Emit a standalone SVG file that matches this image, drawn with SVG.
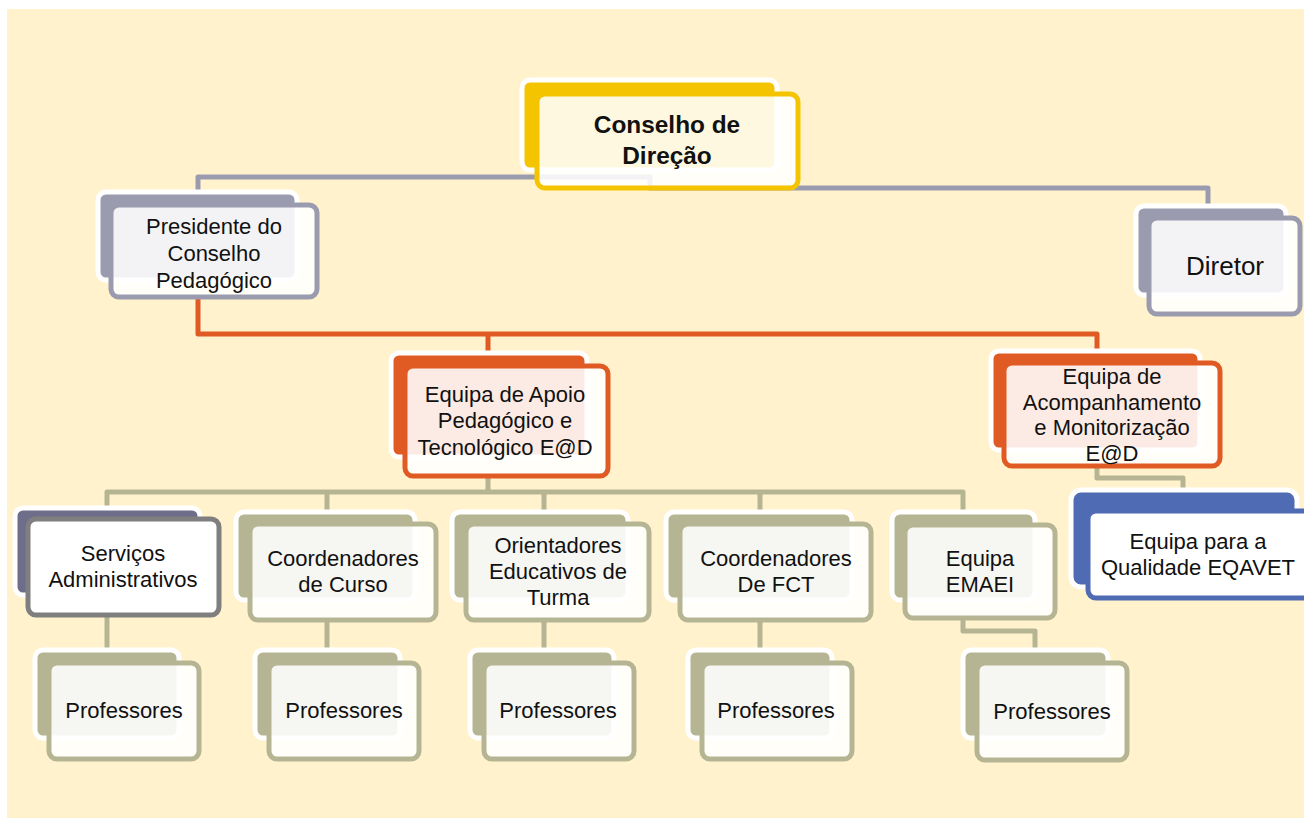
<svg xmlns="http://www.w3.org/2000/svg" width="1304" height="820" viewBox="0 0 1304 820">
<style>
.bk{stroke:#fff;stroke-width:5}
.fr{fill:#fff;fill-opacity:.88;stroke-width:5}
.t{font-family:"Liberation Sans",Arial,sans-serif;font-size:22px;fill:#111;text-anchor:middle}
.b{font-weight:bold;font-size:24.4px}
.y .bk{fill:#F5C400}.y .fr{stroke:#F5C400}
.g .bk{fill:#9B9BAF}.g .fr{stroke:#9B9BAF}
.o .bk{fill:#E05A24}.o .fr{stroke:#E05A24}
.v .bk{fill:#B5B593}.v .fr{stroke:#B5B593}
.p .bk{fill:#6E6E8B}.p .fr{stroke:#7F7F7F;fill-opacity:1}
.u .bk{fill:#4F6BB3}.u .fr{stroke:#4F6BB3;fill-opacity:1}
.cn{fill:none;stroke-width:5;stroke-linejoin:round}
</style>
<rect x="7" y="9" width="1297" height="809" fill="#FFF2CC"/>
<g id="connectors">
<path class="cn" stroke="#9B9BAF" d="M198 192 V177 H650 V188 H1208 V206"/>
<path class="cn" stroke="#E05A24" d="M198 297 V334 H1097 V351 M488 334 V353"/>
<path class="cn" stroke="#B5B593" d="M488 476 V492 M107 508 V492 H963 V512 M327 492 V512 M544 492 V512 M760 492 V512 M107 615 V650 M327 620 V650 M544 620 V650 M760 620 V650 M963 618 V631 H1035 V650 M1097 466 V478 H1183 V490"/>
</g>
<g id="conselho" class="y">
<rect class="bk" x="522" y="80" width="255" height="90" rx="8"/>
<rect class="fr" x="537" y="94" width="261" height="94" rx="8"/>
<text class="t b" x="667"><tspan x="667" y="133">Conselho de</tspan><tspan x="667" y="164">Direção</tspan></text>
</g>
<g id="presidente" class="g">
<rect class="bk" x="98" y="192" width="199" height="88" rx="8"/>
<rect class="fr" x="111" y="205" width="206" height="92" rx="8"/>
<text class="t"><tspan x="214" y="234">Presidente do</tspan><tspan x="214" y="261">Conselho</tspan><tspan x="214" y="288">Pedagógico</tspan></text>
</g>
<g id="diretor" class="g">
<rect class="bk" x="1136" y="206" width="150" height="89" rx="8"/>
<rect class="fr" x="1149" y="218" width="151" height="96" rx="8"/>
<text class="t" x="1225" y="275" style="font-size:26px">Diretor</text>
</g>
<g id="apoio" class="o">
<rect class="bk" x="391" y="353" width="196" height="104" rx="8"/>
<rect class="fr" x="405" y="366" width="203" height="110" rx="8"/>
<text class="t"><tspan x="505" y="402">Equipa de Apoio</tspan><tspan x="505" y="428">Pedagógico e</tspan><tspan x="505" y="455">Tecnológico E@D</tspan></text>
</g>
<g id="acompanhamento" class="o">
<rect class="bk" x="991" y="351" width="209" height="99" rx="8"/>
<rect class="fr" x="1004" y="363" width="216" height="103" rx="8"/>
<text class="t"><tspan x="1112" y="384">Equipa de</tspan><tspan x="1112" y="409.5">Acompanhamento</tspan><tspan x="1112" y="435">e Monitorização</tspan><tspan x="1112" y="460.5">E@D</tspan></text>
</g>
<g id="servicos" class="p">
<rect class="bk" x="15" y="508" width="185" height="87" rx="8"/>
<rect class="fr" x="28" y="519" width="191" height="96" rx="8"/>
<text class="t"><tspan x="123" y="561">Serviços</tspan><tspan x="123" y="587">Administrativos</tspan></text>
</g>
<g id="curso" class="v">
<rect class="bk" x="236" y="512" width="179" height="88" rx="8"/>
<rect class="fr" x="250" y="524" width="186" height="96" rx="8"/>
<text class="t"><tspan x="343" y="566">Coordenadores</tspan><tspan x="343" y="592">de Curso</tspan></text>
</g>
<g id="orientadores" class="v">
<rect class="bk" x="452" y="512" width="176" height="88" rx="8"/>
<rect class="fr" x="466" y="524" width="183" height="96" rx="8"/>
<text class="t"><tspan x="558" y="553">Orientadores</tspan><tspan x="558" y="579">Educativos de</tspan><tspan x="558" y="605">Turma</tspan></text>
</g>
<g id="fct" class="v">
<rect class="bk" x="666" y="512" width="186" height="88" rx="8"/>
<rect class="fr" x="680" y="524" width="191" height="96" rx="8"/>
<text class="t"><tspan x="776" y="566">Coordenadores</tspan><tspan x="776" y="592">De FCT</tspan></text>
</g>
<g id="emaei" class="v">
<rect class="bk" x="892" y="512" width="143" height="88" rx="8"/>
<rect class="fr" x="905" y="525" width="150" height="93" rx="8"/>
<text class="t"><tspan x="980" y="566">Equipa</tspan><tspan x="980" y="592">EMAEI</tspan></text>
</g>
<g id="eqavet" class="u">
<rect class="bk" x="1071" y="490" width="226" height="97" rx="10"/>
<rect class="fr" x="1088" y="511" width="230" height="87" rx="8"/>
<text class="t"><tspan x="1198" y="549">Equipa para a</tspan><tspan x="1198" y="575">Qualidade EQAVET</tspan></text>
</g>
<g id="prof1" class="v">
<rect class="bk" x="35" y="650" width="144" height="88" rx="8"/>
<rect class="fr" x="49" y="663" width="150" height="96" rx="8"/>
<text class="t" x="124" y="718">Professores</text>
</g>
<g id="prof2" class="v">
<rect class="bk" x="255" y="650" width="145" height="88" rx="8"/>
<rect class="fr" x="269" y="663" width="150" height="96" rx="8"/>
<text class="t" x="344" y="718">Professores</text>
</g>
<g id="prof3" class="v">
<rect class="bk" x="470" y="650" width="144" height="88" rx="8"/>
<rect class="fr" x="484" y="663" width="150" height="96" rx="8"/>
<text class="t" x="558" y="718">Professores</text>
</g>
<g id="prof4" class="v">
<rect class="bk" x="688" y="650" width="144" height="88" rx="8"/>
<rect class="fr" x="702" y="663" width="150" height="96" rx="8"/>
<text class="t" x="776" y="718">Professores</text>
</g>
<g id="prof5" class="v">
<rect class="bk" x="963" y="650" width="145" height="88" rx="8"/>
<rect class="fr" x="977" y="663" width="150" height="97" rx="8"/>
<text class="t" x="1052" y="719">Professores</text>
</g>
</svg>
